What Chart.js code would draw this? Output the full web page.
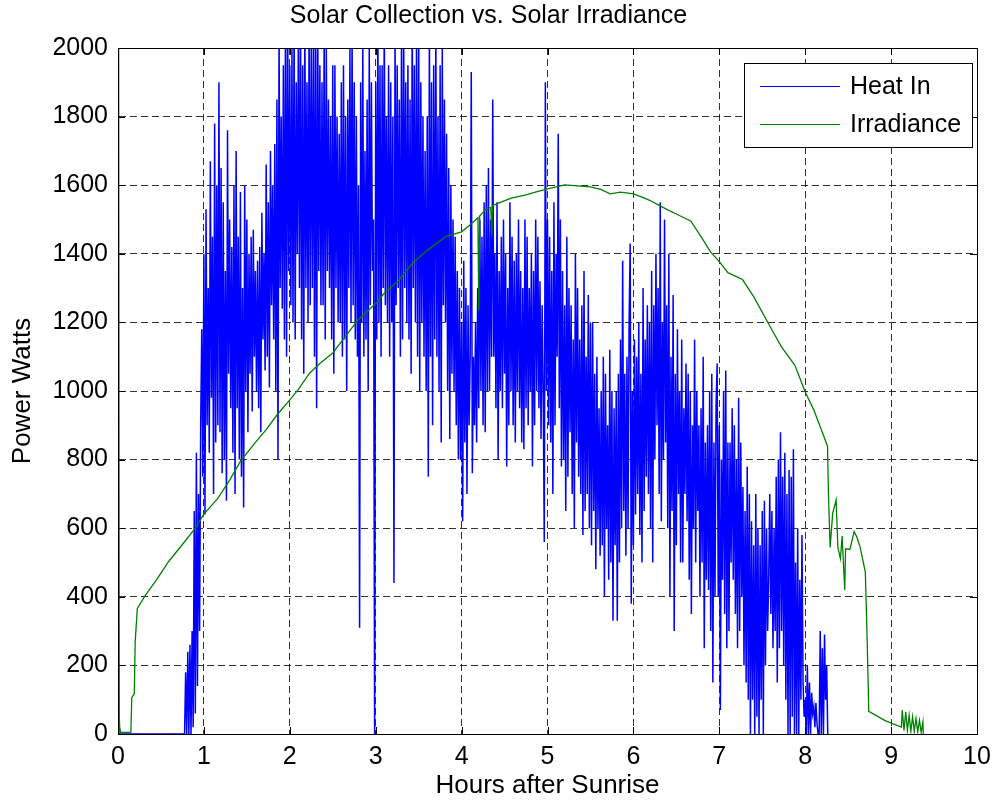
<!DOCTYPE html>
<html>
<head>
<meta charset="utf-8">
<script src="https://cdn.jsdelivr.net/npm/chart.js@4.4.1/dist/chart.umd.min.js"></script>
<style>
  html, body { margin: 0; padding: 0; background: #fff; }
  #solar-chart { display: block; }
</style>
</head>
<body>
<canvas id="solar-chart" width="1002" height="801"></canvas>
<script>
// Heat In: startup spike, then samples every 0.0125 h from 0.775 h
const heatLeadHours = [0, 0.003, 0.008, 0.012];
const heatLeadWatts = [0, 2100, 2100, 0];
const heatStartHour = 0.775;
const heatStepHours = 0.0125;
const heatWatts = [
  0, 180, 0, 240, 0, 260, 0, 300, 20, 650, 60, 820, 140, 700, 300, 900,
  1180, 750, 1400, 640, 1530, 900, 1300, 820, 1670, 980, 1450, 700, 1780, 850, 1600, 900,
  1900, 880, 1650, 760, 1550, 800, 1350, 680, 1760, 1050, 1500, 950, 1420, 820, 1600, 700,
  1700, 950, 1450, 800, 1580, 750, 1300, 660, 1600, 1000, 1500, 880, 1400, 1050, 1450, 940,
  1470, 1100, 1350, 1000, 1380, 950, 1420, 880, 1520, 1150, 1400, 1060, 1660, 1100, 1550, 1010,
  1700, 1250, 1600, 1150, 1720, 1000, 1850, 800, 2050, 1300, 1800, 1240, 1950, 1150, 2100, 1100,
  2100, 1350, 1950, 1250, 2000, 1200, 2100, 1150, 1900, 1400, 2050, 1300, 2100, 1150, 1950, 1050,
  2100, 1300, 1900, 1200, 2100, 1250, 2000, 1300, 2050, 1100, 2100, 950, 2100, 1350, 1950, 1250,
  1900, 1250, 2050, 1150, 2000, 1350, 1850, 1300, 1800, 1150, 1950, 1050, 1950, 1300, 1800, 1200,
  1750, 1200, 1900, 1100, 1950, 1150, 1800, 1000, 1850, 1300, 2000, 1200, 2050, 1250, 1900, 1150,
  1800, 1100, 1600, 310, 1900, 1200, 2000, 1100, 1700, 1150, 1850, 1000, 2000, 1250, 1900, 1350,
  1500, 0, 1900, 1150, 2100, 1200, 1950, 1100, 1950, 1300, 2100, 1250, 1800, 1200, 1950, 1100,
  1900, 1200, 1800, 440, 2050, 1250, 1950, 1300, 1850, 1100, 2000, 1150, 2100, 1300, 1900, 1200,
  1950, 1150, 1850, 1050, 2100, 1300, 1950, 1200, 2000, 1100, 2100, 1000, 1900, 1200, 1800, 1100,
  1700, 1000, 1800, 750, 2050, 1100, 1900, 900, 1950, 1150, 2050, 1100, 1800, 1000, 1950, 850,
  2000, 1250, 1850, 1200, 1750, 1000, 1650, 860, 1600, 1050, 1500, 1000, 1450, 900, 1350, 800,
  1300, 800, 1200, 620, 1380, 850, 1300, 700, 1250, 900, 1100, 1930, 760, 1100, 900, 1200,
  850, 1300, 950, 1500, 1000, 1450, 900, 1550, 880, 1600, 1000, 1650, 1000, 1500, 1100, 1850,
  1100, 1400, 950, 1550, 800, 1350, 1000, 1450, 950, 1500, 1050, 1400, 780, 1300, 900, 1550,
  1000, 1450, 900, 1380, 850, 1400, 1000, 1500, 950, 1350, 850, 1300, 830, 1500, 950, 1450,
  900, 1300, 1000, 1400, 780, 1350, 900, 1500, 1000, 1450, 950, 1320, 860, 1250, 1000, 560,
  1900, 1000, 1500, 900, 1450, 850, 1350, 700, 1550, 900, 1400, 1100, 1750, 950, 1500, 780,
  1350, 800, 1250, 650, 1450, 750, 1300, 880, 1250, 700, 1150, 600, 1400, 850, 1300, 750,
  1150, 700, 1250, 580, 1350, 650, 1100, 700, 1280, 600, 1200, 550, 1200, 650, 1050, 480,
  1100, 600, 950, 520, 1000, 550, 1100, 400, 1050, 600, 900, 450, 1120, 500, 1000, 330,
  950, 550, 1000, 330, 1050, 500, 1150, 600, 1380, 650, 1050, 520, 1100, 600, 1200, 1430,
  380, 1000, 550, 1150, 640, 1100, 700, 1200, 580, 1050, 500, 1300, 650, 1150, 750, 1250,
  700, 1200, 600, 1350, 500, 1250, 800, 1400, 900, 1300, 700, 1550, 620, 1200, 800, 1500,
  850, 1250, 600, 1400, 400, 1100, 650, 1280, 300, 1050, 550, 1180, 700, 1000, 500, 1150,
  500, 950, 700, 1080, 620, 1050, 450, 1000, 350, 900, 600, 1150, 500, 1000, 650, 900,
  400, 950, 500, 1100, 250, 850, 450, 900, 420, 1000, 300, 1050, 150, 850, 400, 960,
  1080, 400, 900, 70, 800, 450, 1000, 350, 1060, 250, 850, 300, 850, 500, 950, 450,
  900, 350, 800, 250, 980, 300, 850, 400, 720, 200, 650, 150, 780, 100, 700, 0,
  620, 100, 550, 0, 700, 50, 600, 0, 550, 100, 650, 0, 680, 200, 600, 300,
  450, 700, 350, 650, 250, 600, 300, 750, 150, 800, 250, 880, 300, 750, 200, 820,
  100, 700, 0, 770, 0, 750, 50, 830, 0, 500, 0, 600, 0, 450, 100, 580,
  150, 50, 100, 0, 200, 0, 150, 0, 120, 60, 80, 20, 90, 30, 0, 0,
  300, 0, 250, 0, 290, 100, 200, 0
];

// Irradiance
const irrHours = [
  0, 0.01, 0.02, 0.03, 0.15, 0.16, 0.19, 0.2, 0.225, 0.32,
  0.45, 0.59, 0.78, 0.9, 1.0, 1.16, 1.3, 1.43, 1.6, 1.73,
  1.85, 2.0, 2.1, 2.23, 2.35, 2.5, 2.65, 2.8, 3.0, 3.1,
  3.26, 3.43, 3.6, 3.82, 4.0, 4.1, 4.19, 4.2, 4.21, 4.28,
  4.34, 4.35, 4.36, 4.45, 4.58, 4.75, 4.89, 5.05, 5.2, 5.35,
  5.5, 5.62, 5.73, 5.85, 6.0, 6.1, 6.19, 6.3, 6.4, 6.5,
  6.67, 6.8, 6.9, 7.0, 7.1, 7.27, 7.4, 7.58, 7.72, 7.88,
  8.0, 8.1, 8.18, 8.26, 8.27, 8.29, 8.32, 8.36, 8.38, 8.41,
  8.43, 8.46, 8.47, 8.52, 8.57, 8.6, 8.64, 8.7, 8.72, 8.74,
  8.93, 9.12, 9.13, 9.15, 9.17, 9.19, 9.21, 9.23, 9.25, 9.27,
  9.29, 9.31, 9.33, 9.35, 9.37, 9.375
];
const irrWatts = [
  0, 70, 20, 5, 5, 105, 118, 268, 366, 405,
  450, 503, 562, 600, 641, 686, 740, 797, 850, 889,
  930, 974, 1005, 1052, 1080, 1111, 1160, 1209, 1255, 1285,
  1320, 1373, 1410, 1451, 1464, 1485, 1505, 1235, 1510, 1529,
  1535, 1450, 1540, 1550, 1562, 1572, 1582, 1592, 1601, 1598,
  1595, 1588, 1575, 1580, 1575, 1565, 1556, 1541, 1528, 1516,
  1495, 1445, 1405, 1377, 1345, 1325, 1275, 1193, 1130, 1075,
  997, 945, 892, 839, 707, 544, 643, 682, 544, 511,
  577, 420, 540, 538, 590, 575, 544, 472, 289, 66,
  39, 20, 70, 10, 65, 10, 55, 8, 50, 8,
  45, 6, 40, 5, 35, 0
];

const xTicks = [0, 1, 2, 3, 4, 5, 6, 7, 8, 9, 10];
const yTicks = [0, 200, 400, 600, 800, 1000, 1200, 1400, 1600, 1800, 2000];

let heatPoints = heatLeadHours.map((h, i) => ({ x: h, y: heatLeadWatts[i] }));
heatWatts.forEach((w, i) => {
  heatPoints.push({ x: heatStartHour + i * heatStepHours, y: w });
});
let irrPoints = irrHours.map((h, i) => ({ x: h, y: irrWatts[i] }));

const FONT = 'Arial, "Liberation Sans", Helvetica, sans-serif';
Chart.defaults.font.family = FONT;
Chart.defaults.font.size = 25;
Chart.defaults.color = '#000';

// box round the axes + inward ticks on all four sides (MATLAB look)
const axesBox = {
  id: 'axesBox',
  afterDraw(chart) {
    const { ctx, chartArea: a, scales } = chart;
    const len = 7;
    ctx.save();
    ctx.strokeStyle = '#000';
    ctx.lineWidth = 1;
    ctx.beginPath();
    xTicks.forEach(v => {
      const px = Math.round(scales.x.getPixelForValue(v)) + 0.5;
      ctx.moveTo(px, a.bottom); ctx.lineTo(px, a.bottom - len);
      ctx.moveTo(px, a.top); ctx.lineTo(px, a.top + len);
    });
    yTicks.forEach(v => {
      const py = Math.round(scales.y.getPixelForValue(v)) + 0.5;
      ctx.moveTo(a.left, py); ctx.lineTo(a.left + len, py);
      ctx.moveTo(a.right, py); ctx.lineTo(a.right - len, py);
    });
    ctx.stroke();
    ctx.strokeRect(Math.round(a.left) + 0.5, Math.round(a.top) + 0.5,
      Math.round(a.right - a.left), Math.round(a.bottom - a.top));
    ctx.restore();
    drawLegend(chart);
  }
};

// legend box in the upper right corner of the axes
function drawLegend(chart) {
  const { ctx } = chart;
  const x0 = 744, y0 = 63, w = 228, h = 84;
  ctx.save();
  ctx.fillStyle = '#fff';
  ctx.fillRect(x0, y0, w, h);
  ctx.strokeStyle = '#000';
  ctx.lineWidth = 1;
  ctx.strokeRect(x0 + 0.5, y0 + 0.5, w, h);
  ctx.font = '25px ' + FONT;
  ctx.textBaseline = 'middle';
  chart.data.datasets.forEach((ds, i) => {
    const y = y0 + 23 + i * 38;
    ctx.strokeStyle = ds.borderColor;
    ctx.lineWidth = 1;
    ctx.beginPath();
    ctx.moveTo(x0 + 16, y + 0.5);
    ctx.lineTo(x0 + 96, y + 0.5);
    ctx.stroke();
    ctx.fillStyle = '#000';
    ctx.fillText(ds.label, x0 + 106, y + 1);
  });
  ctx.restore();
}

const ctx = document.getElementById('solar-chart').getContext('2d');
const solarChart = new Chart(ctx, {
  type: 'line',
  data: {
    datasets: [{
      label: 'Heat In',
      data: heatPoints,
      borderColor: '#0000ff',
      borderWidth: 1.5,
      pointRadius: 0,
      tension: 0,
      fill: false,
      order: 2
    }, {
      label: 'Irradiance',
      data: irrPoints,
      borderColor: '#008000',
      borderWidth: 1.3,
      pointRadius: 0,
      tension: 0,
      fill: false,
      order: 1
    }]
  },
  options: {
    responsive: false,
    animation: false,
    layout: { padding: { left: 0, right: 25, top: 0, bottom: 0 } },
    plugins: {
      legend: { display: false },
      tooltip: { enabled: false },
      title: {
        display: true,
        text: 'Solar Collection vs. Solar Irradiance',
        color: '#000',
        font: { size: 25, weight: 'normal' },
        padding: { top: 1, bottom: 17 }
      }
    },
    scales: {
      x: {
        type: 'linear',
        min: 0,
        max: 10,
        z: 1,
        afterBuildTicks: (scale) => { scale.ticks = xTicks.map(v => ({ value: v })); },
        afterFit: (scale) => { scale.height = 67; },
        ticks: { padding: 8, maxRotation: 0, color: '#000', callback: (v) => String(v) },
        grid: {
          drawTicks: false,
          color: 'rgba(0,0,0,0.8)',
          lineWidth: 1
        },
        border: { display: true, color: '#000', dash: [7, 4] },
        title: {
          display: true,
          text: 'Hours after Sunrise',
          color: '#000',
          font: { size: 26 },
          padding: { top: 0, bottom: 0 }
        }
      },
      y: {
        min: 0,
        max: 2000,
        z: 1,
        afterBuildTicks: (scale) => { scale.ticks = yTicks.map(v => ({ value: v })); },
        afterFit: (scale) => { scale.width = 118; },
        ticks: { padding: 10, color: '#000', callback: (v) => String(v) },
        grid: {
          drawTicks: false,
          color: 'rgba(0,0,0,0.8)',
          lineWidth: 1
        },
        border: { display: true, color: '#000', dash: [7, 4] },
        title: {
          display: true,
          text: 'Power Watts',
          color: '#000',
          font: { size: 26 },
          padding: { top: 7, bottom: 0 }
        }
      }
    }
  },
  plugins: [axesBox]
});
</script>
</body>
</html>
